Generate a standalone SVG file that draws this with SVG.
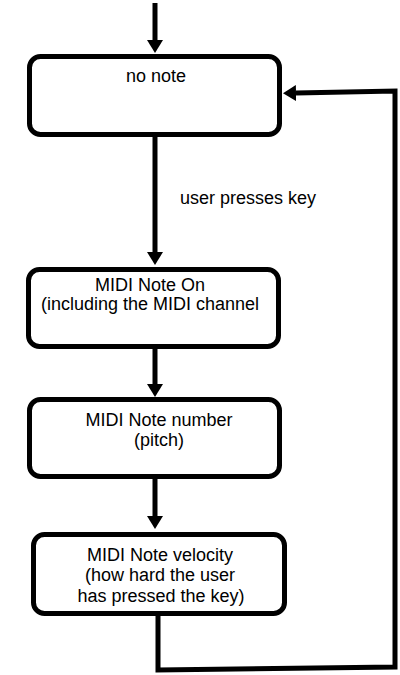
<svg xmlns="http://www.w3.org/2000/svg" width="400" height="675" viewBox="0 0 400 675">
<style>
.box{fill:#fff;stroke:#000;stroke-width:5}
.t{font-family:"Liberation Sans",Arial,sans-serif;font-size:18px;fill:#000;text-anchor:middle}
.c{fill:none;stroke:#000;stroke-width:5}
</style>
<defs>
<marker id="ah" markerUnits="userSpaceOnUse" markerWidth="14" markerHeight="17" refX="0" refY="8" orient="auto">
<path d="M0,0 L13,8 L0,16 z" fill="#000"/>
</marker>
</defs>
<rect width="400" height="675" fill="#fff"/>
<g id="connectors">
<path class="c" d="M155,3 L155,40" marker-end="url(#ah)"/>
<path class="c" d="M155,137 L155,252" marker-end="url(#ah)"/>
<path class="c" d="M155,348 L155,384" marker-end="url(#ah)"/>
<path class="c" d="M155,478 L155,516" marker-end="url(#ah)"/>
<path class="c" d="M158,615 L158,670 L395,667 L395,91 L296,93" marker-end="url(#ah)"/>
<text class="t" x="248" y="204">user presses key</text>
</g>
<g id="n1">
<rect class="box" x="29.5" y="56.5" width="250" height="78" rx="11"/>
<text class="t" x="156" y="82">no note</text>
</g>
<g id="n2">
<rect class="box" x="28.5" y="269.5" width="250" height="77" rx="11"/>
<text class="t" x="150" y="291">MIDI Note On</text>
<text class="t" x="150" y="310">(including the MIDI channel</text>
</g>
<g id="n3">
<rect class="box" x="29.5" y="399.5" width="250" height="77" rx="11"/>
<text class="t" x="159" y="426">MIDI Note number</text>
<text class="t" x="159" y="446">(pitch)</text>
</g>
<g id="n4">
<rect class="box" x="33.5" y="534.5" width="251" height="79" rx="11"/>
<text class="t" x="160" y="561">MIDI Note velocity</text>
<text class="t" x="160" y="581">(how hard the user</text>
<text class="t" x="161" y="602">has pressed the key)</text>
</g>
</svg>
